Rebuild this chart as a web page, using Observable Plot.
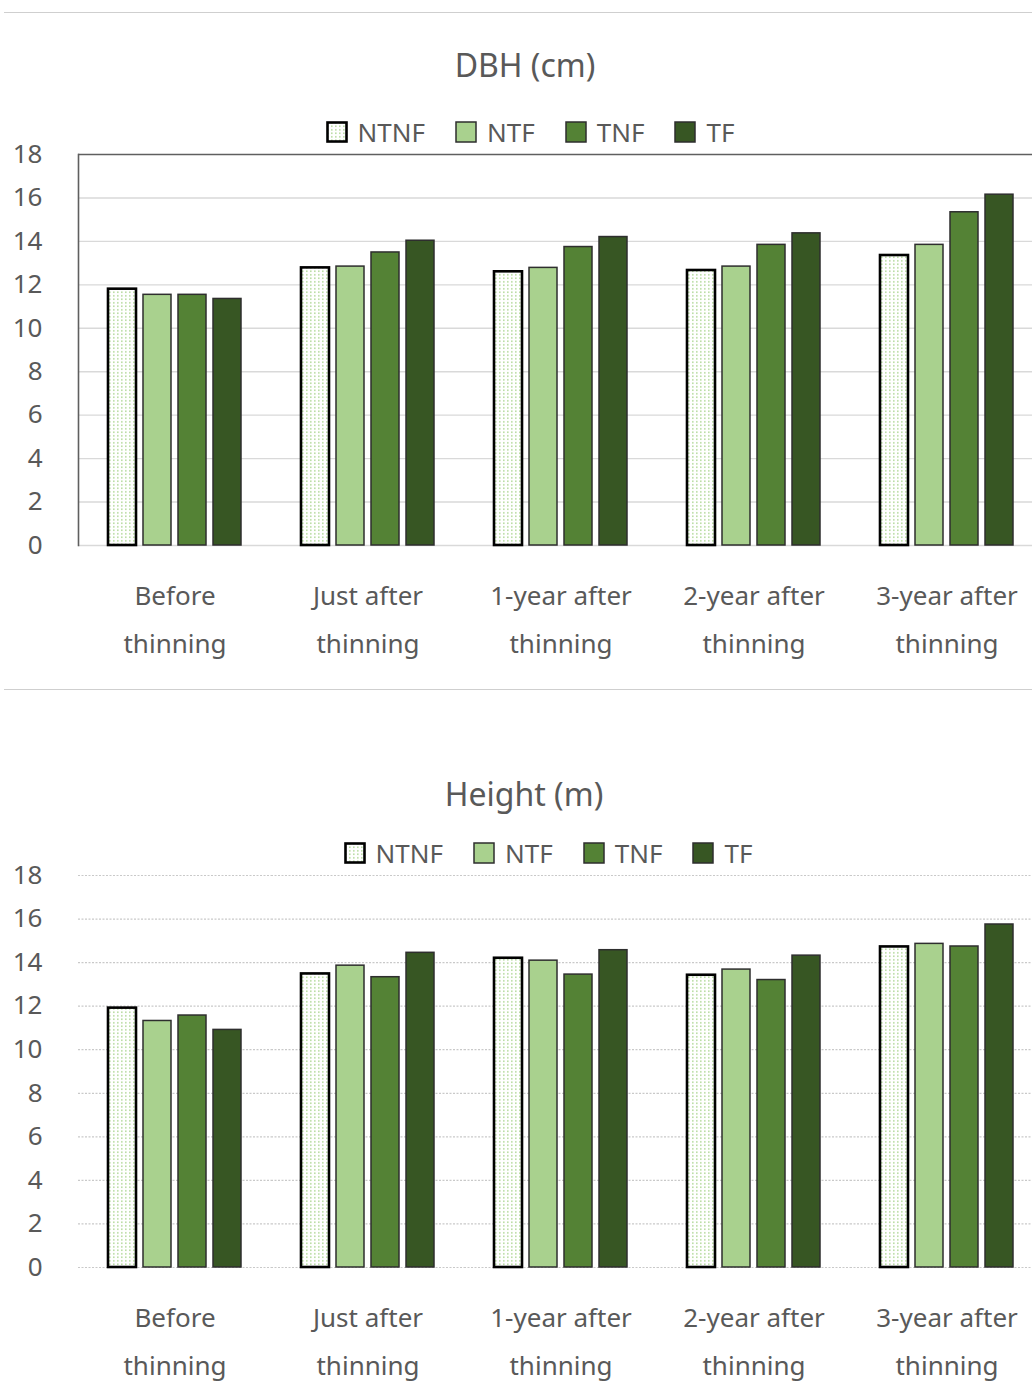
<!DOCTYPE html>
<html>
<head>
<meta charset="utf-8">
<script src="https://cdn.jsdelivr.net/npm/d3@7"></script>
<script src="https://cdn.jsdelivr.net/npm/@observablehq/plot@0.6"></script>
<style>
  html, body { margin: 0; padding: 0; background: #fff; }
  body { width: 1032px; height: 1381px; overflow: hidden; position: relative; font-family: "Noto Sans", sans-serif; color: #595959; }
  .sep { position: absolute; left: 4px; right: 0; height: 0; border-top: 1.5px solid #cfcfcf; }
  .title { position: absolute; left: 0; text-align: center; font-size: 32px; line-height: 40px; color: #595959; }
  .legend { position: absolute; left: 0; display: flex; justify-content: center; align-items: center; height: 30px; font-size: 26px; color: #595959; }
  .legend .item { display: flex; align-items: center; margin: 0 15px; }
  .legend svg { margin-right: 10px; }
  svg.chart { position: absolute; left: 0; max-width: none !important; width: 1043px; }
</style>
</head>
<body>
<svg width="0" height="0" style="position:absolute">
  <defs>
    <pattern id="ntnfPattern" patternUnits="userSpaceOnUse" width="4" height="3.5">
      <rect width="4" height="3.5" fill="#ffffff"></rect>
      <rect x="1" y="1" width="1.6" height="1.6" fill="#b9dca3"></rect>
    </pattern>
  </defs>
</svg>
<div class="sep" style="top:12px"></div>
<div class="sep" style="top:689px"></div>
<div id="root"></div>
<script>
// ---- data ----
const categories = ["Before\nthinning", "Just after\nthinning", "1-year after\nthinning", "2-year after\nthinning", "3-year after\nthinning"];
const series = ["NTNF", "NTF", "TNF", "TF"];
const yTicks = [0, 2, 4, 6, 8, 10, 12, 14, 16, 18];

const dbhNTNF = [11.80, 12.78, 12.60, 12.66, 13.35];
const dbhNTF  = [11.54, 12.84, 12.78, 12.84, 13.84];
const dbhTNF  = [11.54, 13.49, 13.74, 13.84, 15.34];
const dbhTF   = [11.35, 14.03, 14.20, 14.37, 16.15];

const htNTNF = [11.91, 13.48, 14.20, 13.42, 14.72];
const htNTF  = [11.32, 13.86, 14.09, 13.68, 14.86];
const htTNF  = [11.57, 13.33, 13.45, 13.20, 14.74];
const htTF   = [10.91, 14.45, 14.57, 14.32, 15.75];

const seriesFills = ["url(#ntnfPattern)", "#a9d18e", "#548235", "#375623"];

function toRows(arrays) {
  const rows = [];
  categories.forEach((c, i) => {
    series.forEach((s, j) => rows.push({cat: c, series: s, value: arrays[j][i]}));
  });
  return rows;
}

const root = document.getElementById("root");

function addTitle(text, top, width) {
  const d = document.createElement("div");
  d.className = "title";
  d.style.top = top + "px";
  d.style.width = width + "px";
  d.textContent = text;
  root.appendChild(d);
}

function addLegend(top, width) {
  const d = document.createElement("div");
  d.className = "legend";
  d.style.top = top + "px";
  d.style.width = width + "px";
  series.forEach((s, j) => {
    const item = document.createElement("div");
    item.className = "item";
    const sw = j === 0
      ? `<svg width="22" height="22"><rect x="1.5" y="1.5" width="19" height="19" fill="${seriesFills[j]}" stroke="#000" stroke-width="2.6"/></svg>`
      : `<svg width="22" height="22"><rect x="1" y="1" width="20" height="20" fill="${seriesFills[j]}" stroke="#2e2e2e" stroke-width="1.5"/></svg>`;
    item.innerHTML = sw + `<span>${s}</span>`;
    d.appendChild(item);
  });
  root.appendChild(d);
}

function makeChart(rows, {top, height, marginTop, marginBottom, framed}) {
  const marks = [];
  if (framed) {
    marks.push(Plot.gridY(yTicks.slice(0, -1), {stroke: "#d9d9d9", strokeOpacity: 1, strokeWidth: 1.4}));
    marks.push(Plot.ruleY([18], {stroke: "#5f5f5f", strokeWidth: 1.6}));
    marks.push(Plot.frame({anchor: "left", fx: [categories[0]], stroke: "#5f5f5f", strokeWidth: 1.6}));
  } else {
    marks.push(Plot.gridY(yTicks, {stroke: "#c9c9c9", strokeOpacity: 1, strokeWidth: 1.2, strokeDasharray: "2,1.5"}));
  }
  marks.push(
    Plot.axisY({ticks: yTicks, tickSize: 0, tickPadding: 36, fontSize: 26, label: null}),
    Plot.axisFx({anchor: "bottom", tickSize: 0, tickPadding: 25, fontSize: 26, lineHeight: 1.85, label: null}),
    Plot.barY(rows.filter(d => d.series !== "NTNF"), {fx: "cat", x: "series", y: "value", fill: "series", stroke: "#2e2e2e", strokeWidth: 1.5}),
    Plot.barY(rows.filter(d => d.series === "NTNF"), {fx: "cat", x: "series", y: "value", fill: "series", stroke: "#000", strokeWidth: 2.6})
  );
  const chart = Plot.plot({
    width: 1043,
    height,
    marginLeft: 78,
    marginRight: 0,
    marginTop,
    marginBottom,
    style: {fontFamily: "Noto Sans, sans-serif", color: "#595959", background: "transparent", overflow: "visible", maxWidth: "none"},
    fx: {domain: categories, padding: 0, label: null},
    x: {domain: series, paddingInner: 0.2, paddingOuter: 0.857, axis: null},
    y: {domain: [0, 18], label: null},
    color: {domain: series, range: seriesFills},
    marks
  });
  chart.classList.add("chart");
  chart.style.top = top + "px";
  chart.style.height = height + "px";
  root.appendChild(chart);
}

// DBH chart
addTitle("DBH (cm)", 45, 1050);
addLegend(117, 1060);
makeChart(toRows([dbhNTNF, dbhNTF, dbhTNF, dbhTF]), {top: 140, height: 545, marginTop: 14, marginBottom: 140, framed: true});

// Height chart
addTitle("Height (m)", 774, 1048);
addLegend(838, 1096);
makeChart(toRows([htNTNF, htNTF, htTNF, htTF]), {top: 860, height: 521, marginTop: 15, marginBottom: 114, framed: false});
</script>
</body>
</html>
